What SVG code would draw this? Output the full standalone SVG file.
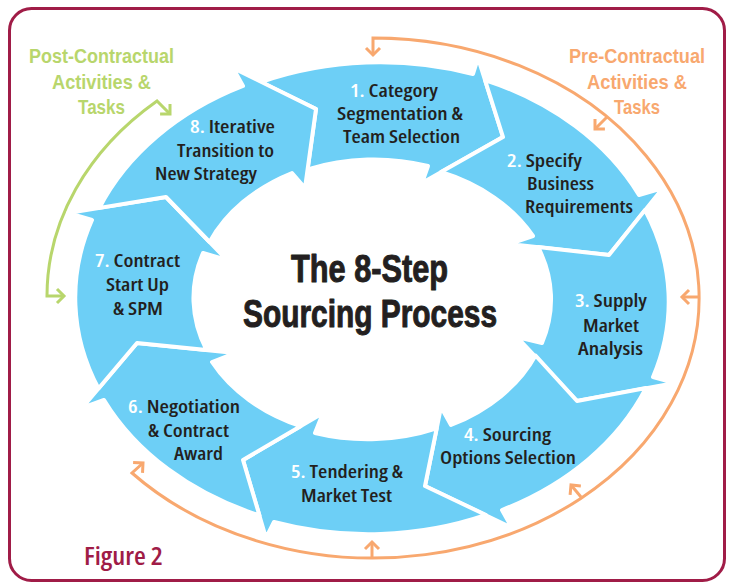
<svg xmlns="http://www.w3.org/2000/svg" width="729" height="583" viewBox="0 0 729 583">
  <defs>
    <style>
      .seg { fill: #6DCFF6; stroke: #FFFFFF; stroke-width: 4; stroke-linejoin: round; }
      .step { font-family: "Open Sans", "Liberation Sans", sans-serif; font-weight: 600; font-size: 18.5px; font-stretch: condensed; fill: #231F20; text-anchor: middle; }
      .num { fill: #FFFFFF; }
      .title { font-family: "Liberation Sans", "Open Sans", sans-serif; font-weight: 700; font-size: 38px; fill: #231F20; stroke: #231F20; stroke-width: 1; stroke-linejoin: round; text-anchor: middle; }
      .phase { font-family: "Liberation Sans", "Open Sans", sans-serif; font-weight: 700; font-size: 21px; text-anchor: middle; }
      .pre { fill: #F8A86F; }
      .post { fill: #B8D66C; }
      .fig { font-family: "Open Sans", "Liberation Sans", sans-serif; font-weight: 600; font-size: 25px; font-stretch: condensed; fill: #A01C47; }
      .loop-pre { fill: none; stroke: #F8A86F; stroke-width: 3; }
      .loop-post { fill: none; stroke: #B8D66C; stroke-width: 3; }
    </style>
    <marker id="chev-pre" markerUnits="userSpaceOnUse" viewBox="-10 -10 12 20" refX="0" refY="0" markerWidth="12" markerHeight="20" orient="auto-start-reverse" overflow="visible">
      <path d="M-7,-7 L0,0 L-7,7" fill="none" stroke="#F8A86F" stroke-width="3"/>
    </marker>
    <marker id="chev-post" markerUnits="userSpaceOnUse" viewBox="-10 -10 12 20" refX="0" refY="0" markerWidth="12" markerHeight="20" orient="auto-start-reverse" overflow="visible">
      <path d="M-7,-7 L0,0 L-7,7" fill="none" stroke="#B8D66C" stroke-width="3"/>
    </marker>
  </defs>

  <rect width="729" height="583" fill="#FFFFFF"/>
  <!-- frame -->
  <rect x="9.5" y="8.5" width="715" height="572" rx="22" fill="none" stroke="#A01C47" stroke-width="3"/>

  <!-- connectors: pre- and post-contractual loops -->
  <g id="connectors">
    <path class="loop-pre" d="M373,55 L373,38 A326,260 0 1 1 132,473 L143,463" marker-start="url(#chev-pre)" marker-end="url(#chev-pre)"/>
    <path class="loop-pre" d="M607,117 L595,129" marker-end="url(#chev-pre)"/>
    <path class="loop-pre" d="M698,297 L682,297" marker-end="url(#chev-pre)"/>
    <path class="loop-pre" d="M581,497 L571,485" marker-end="url(#chev-pre)"/>
    <path class="loop-pre" d="M372,557 L372,542" marker-end="url(#chev-pre)"/>
    <path class="loop-post" d="M170,114 L157,101 A325,260 0 0 0 47,296 L64,296" marker-start="url(#chev-post)" marker-end="url(#chev-post)"/>
  </g>

  <!-- eight arrow segments, clockwise -->
  <g id="step1">
    <path class="seg" d="M261,82 A296,234 0 0 1 473,74 L478,58 L503,137 L422,183 L428,166 A178,139 0 0 0 307.6,169.4 L316,109 Z"/>
    <text class="step" x="394" y="97" textLength="88" lengthAdjust="spacingAndGlyphs"><tspan class="num">1.</tspan> Category</text>
    <text class="step" x="400" y="120" textLength="126" lengthAdjust="spacingAndGlyphs">Segmentation &amp;</text>
    <text class="step" x="401.5" y="143" textLength="117" lengthAdjust="spacingAndGlyphs">Team Selection</text>
  </g>
  <g id="step2">
    <path class="seg" d="M485,80 A296,234 0 0 1 639,195 L663,188 L609,255 L509,244 L533,236 A178,139 0 0 0 441,172 L503,137 Z"/>
    <text class="step" x="544.5" y="167" textLength="75" lengthAdjust="spacingAndGlyphs"><tspan class="num">2.</tspan> Specify</text>
    <text class="step" x="560.5" y="190" textLength="67" lengthAdjust="spacingAndGlyphs">Business</text>
    <text class="step" x="579" y="213" textLength="108" lengthAdjust="spacingAndGlyphs">Requirements</text>
  </g>
  <g id="step3">
    <path class="seg" d="M645,210 A296,234 0 0 1 653,377 L675,383 L577,401 L517,337 L542,343 A178,139 0 0 0 538,247 L609,255 Z"/>
    <text class="step" x="611" y="307" textLength="72" lengthAdjust="spacingAndGlyphs"><tspan class="num">3.</tspan> Supply</text>
    <text class="step" x="611" y="332" textLength="56" lengthAdjust="spacingAndGlyphs">Market</text>
    <text class="step" x="610.5" y="355" textLength="65" lengthAdjust="spacingAndGlyphs">Analysis</text>
  </g>
  <g id="step4">
    <path class="seg" d="M646,388 A296,234 0 0 1 502,510 L512,528 L425,486 L441,407 L451,425 A178,139 0 0 0 535.5,355.5 L577,401 Z"/>
    <text class="step" x="507.5" y="441" textLength="87" lengthAdjust="spacingAndGlyphs"><tspan class="num">4.</tspan> Sourcing</text>
    <text class="step" x="508" y="464" textLength="136" lengthAdjust="spacingAndGlyphs">Options Selection</text>
  </g>
  <g id="step5">
    <path class="seg" d="M486,515 A296,234 0 0 1 274,522 L266,538 L243,460 L323,413 L315,433 A178,139 0 0 0 436.7,428.3 L425,486 Z"/>
    <text class="step" x="347" y="478" textLength="112" lengthAdjust="spacingAndGlyphs"><tspan class="num">5.</tspan> Tendering &amp;</text>
    <text class="step" x="346.5" y="502" textLength="91" lengthAdjust="spacingAndGlyphs">Market Test</text>
  </g>
  <g id="step6">
    <path class="seg" d="M259.5,515.5 A296,234 0 0 1 104,400 L82,408 L137,343 L235,353 L212,362 A178,139 0 0 0 300.6,426.2 L243,460 Z"/>
    <text class="step" x="184" y="413" textLength="112" lengthAdjust="spacingAndGlyphs"><tspan class="num">6.</tspan> Negotiation</text>
    <text class="step" x="188.5" y="437" textLength="81" lengthAdjust="spacingAndGlyphs">&amp; Contract</text>
    <text class="step" x="198.5" y="460" textLength="49" lengthAdjust="spacingAndGlyphs">Award</text>
  </g>
  <g id="step7">
    <path class="seg" d="M98.5,388.5 A296,234 0 0 1 92,220 L68,213 L166,197 L227,260 L203,253 A178,139 0 0 0 206.5,350.1 L137,343 Z"/>
    <text class="step" x="137.5" y="267" textLength="85" lengthAdjust="spacingAndGlyphs"><tspan class="num">7.</tspan> Contract</text>
    <text class="step" x="137.5" y="291" textLength="63" lengthAdjust="spacingAndGlyphs">Start Up</text>
    <text class="step" x="138" y="315" textLength="50" lengthAdjust="spacingAndGlyphs">&amp; SPM</text>
  </g>
  <g id="step8">
    <path class="seg" d="M99.4,207.9 A296,234 0 0 1 243,86 L233,68 L316,109 L305,188 L292,173 A178,139 0 0 0 209.6,242 L166,197 Z"/>
    <text class="step" x="232.5" y="133" textLength="85" lengthAdjust="spacingAndGlyphs"><tspan class="num">8.</tspan> Iterative</text>
    <text class="step" x="225.5" y="157" textLength="97" lengthAdjust="spacingAndGlyphs">Transition to</text>
    <text class="step" x="206" y="180" textLength="102" lengthAdjust="spacingAndGlyphs">New Strategy</text>
  </g>

  <!-- centre title -->
  <g id="title">
    <text class="title" x="369.5" y="282" textLength="157" lengthAdjust="spacingAndGlyphs">The 8-Step</text>
    <text class="title" x="370" y="327" textLength="254" lengthAdjust="spacingAndGlyphs">Sourcing Process</text>
  </g>

  <!-- phase captions -->
  <g id="post-label">
    <text class="phase post" x="101.5" y="63" textLength="145" lengthAdjust="spacingAndGlyphs">Post-Contractual</text>
    <text class="phase post" x="101.5" y="89" textLength="99" lengthAdjust="spacingAndGlyphs">Activities &amp;</text>
    <text class="phase post" x="101.5" y="114" textLength="47" lengthAdjust="spacingAndGlyphs">Tasks</text>
  </g>
  <g id="pre-label">
    <text class="phase pre" x="637" y="63" textLength="136" lengthAdjust="spacingAndGlyphs">Pre-Contractual</text>
    <text class="phase pre" x="637" y="89" textLength="100" lengthAdjust="spacingAndGlyphs">Activities &amp;</text>
    <text class="phase pre" x="637" y="114" textLength="46" lengthAdjust="spacingAndGlyphs">Tasks</text>
  </g>

  <text class="fig" x="84" y="565" textLength="79" lengthAdjust="spacingAndGlyphs">Figure 2</text>
</svg>
